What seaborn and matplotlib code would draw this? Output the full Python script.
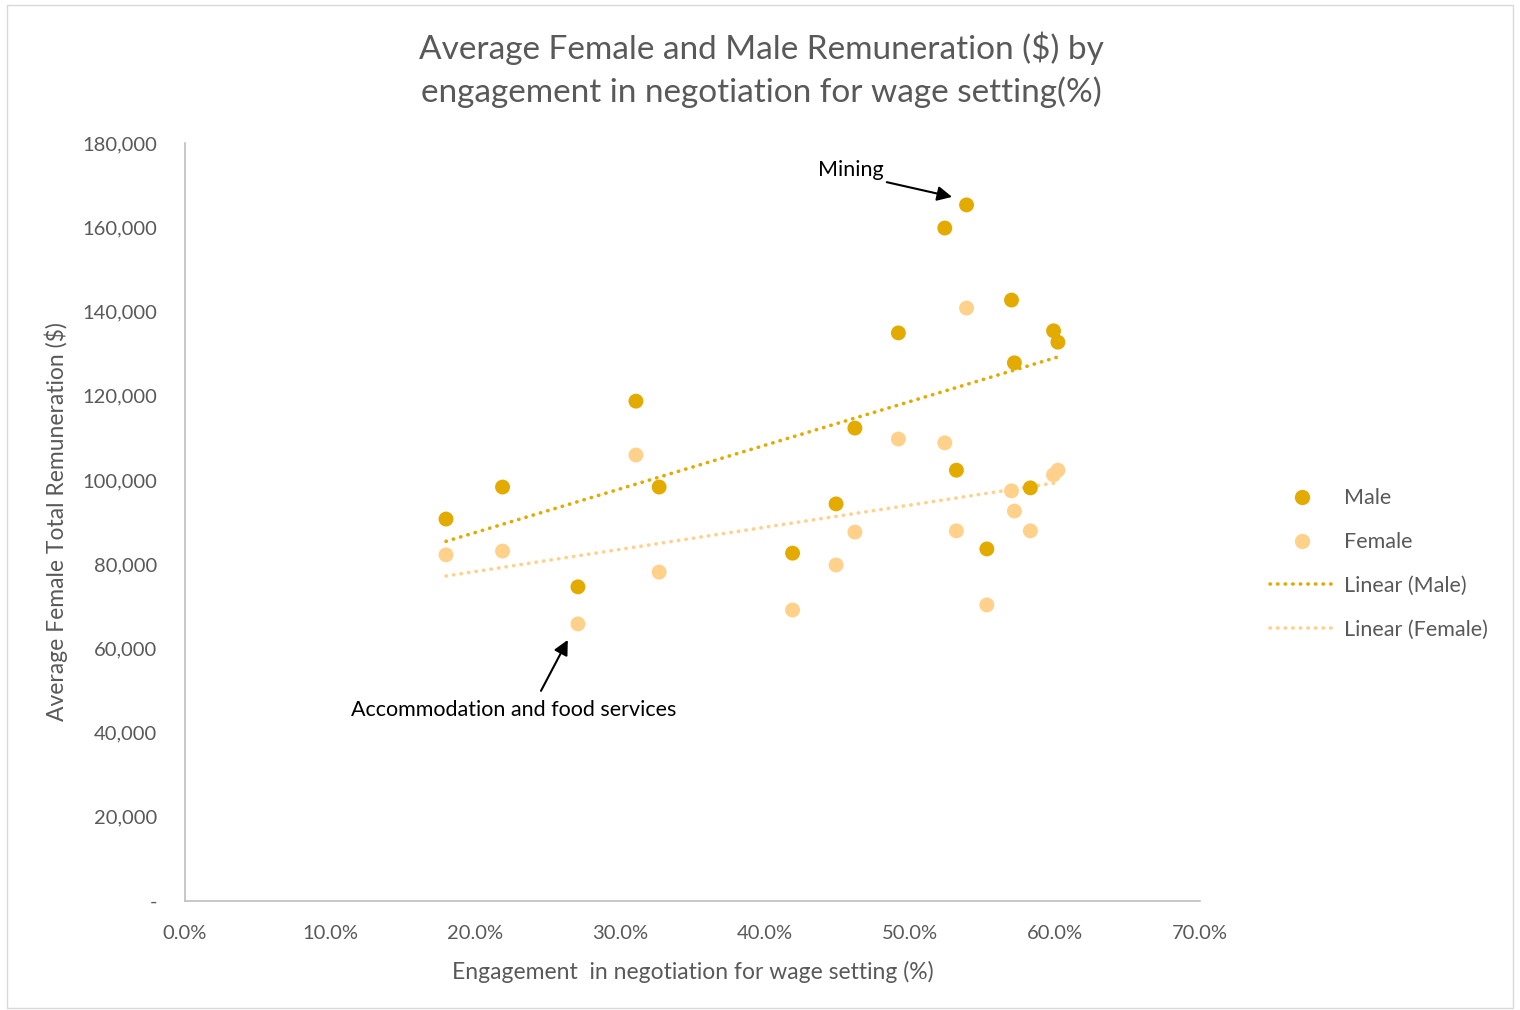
import matplotlib
matplotlib.use("Agg")
import matplotlib.pyplot as plt
import seaborn as sns
import pandas as pd
import numpy as np
from matplotlib.lines import Line2D
from matplotlib.ticker import FuncFormatter

# Data (engagement % as fraction, remuneration $)
engagement = [0.180, 0.219, 0.271, 0.311, 0.327, 0.419, 0.449, 0.462, 0.492,
              0.524, 0.539, 0.532, 0.553, 0.570, 0.572, 0.583, 0.599, 0.602]
male = [90700, 98300, 74600, 118700, 98300, 82600, 94300, 112300, 134900,
        159800, 165300, 102300, 83600, 142700, 127800, 98100, 135400, 132700]
female = [82200, 83100, 65800, 105900, 78100, 69100, 79800, 87600, 109700,
          108800, 140800, 87900, 70300, 97400, 92600, 87900, 101200, 102300]

series_names = ["Male", "Female"]
colors = {"Male": "#E3AA00", "Female": "#FFD18A"}
y_ticks = [0, 20000, 40000, 60000, 80000, 100000, 120000, 140000, 160000, 180000]
x_ticks = [0.0, 0.1, 0.2, 0.3, 0.4, 0.5, 0.6, 0.7]

df = pd.DataFrame({
    "Engagement": engagement * 2,
    "Remuneration": male + female,
    "Series": ["Male"] * len(male) + ["Female"] * len(female),
})

sns.set_theme(style="white")
plt.rcParams['font.family'] = ['Lato', 'DejaVu Sans']

DOT = (0, (0.1, 2.0))

fig = plt.figure(figsize=(15.2, 10.1), dpi=100)
ax = fig.add_axes([185/1520, 1 - 901/1010, (1200-185)/1520, (901-143)/1010])

# trendlines
for name in series_names:
    sub = df[df["Series"] == name]
    sns.regplot(data=sub, x="Engagement", y="Remuneration", ax=ax, scatter=False,
                ci=None, truncate=True, color=colors[name],
                line_kws=dict(linestyle=DOT, linewidth=2.6, dash_capstyle="round"))

sns.scatterplot(data=df, x="Engagement", y="Remuneration", hue="Series",
                palette=colors, hue_order=series_names, s=115, edgecolor="none",
                ax=ax, legend=False, zorder=3)

ax.set_xlim(0, 0.7)
ax.set_ylim(0, 180000)
ax.set_xticks(x_ticks)
ax.set_yticks(y_ticks)
ax.xaxis.set_major_formatter(FuncFormatter(lambda v, p: f"{v*100:.1f}%"))
ax.yaxis.set_major_formatter(FuncFormatter(lambda v, p: "-" if v == 0 else f"{int(v):,}"))
ax.tick_params(axis="both", labelsize=14.5, colors="#595959", length=0)
ax.tick_params(axis="x", pad=17)
ax.tick_params(axis="y", pad=20)

for s in ["top", "right"]:
    ax.spines[s].set_visible(False)
for s in ["left", "bottom"]:
    ax.spines[s].set_color("#BFBFBF")
    ax.spines[s].set_linewidth(1.2)

ax.set_xlabel("Engagement  in negotiation for wage setting (%)", fontsize=16.5,
              color="#595959", labelpad=14)
ax.set_ylabel("Average Female Total Remuneration ($)", fontsize=16.5,
              color="#595959", labelpad=10)

fig.text((420 + 1102) / 2 / 1520, 1 - 70/1010,
         "Average Female and Male Remuneration ($) by\nengagement in negotiation for wage setting(%)",
         ha="center", va="center", fontsize=24, color="#595959", linespacing=1.45)

# annotations
ax.text(0.459, 173600, "Mining", fontsize=15.5, color="black", ha="center", va="center")
ax.annotate("", xy=(0.529, 167200), xytext=(0.484, 170700),
            arrowprops=dict(arrowstyle="-|>", color="black", lw=1.5, mutation_scale=22,
                            shrinkA=0, shrinkB=0))
ax.text(0.227, 45400, "Accommodation and food services", fontsize=15.5, color="black",
        ha="center", va="center")
ax.annotate("", xy=(0.264, 62000), xytext=(0.2455, 49900),
            arrowprops=dict(arrowstyle="-|>", color="black", lw=1.5, mutation_scale=22,
                            shrinkA=0, shrinkB=0))

# legend
handles = [
    Line2D([0], [0], marker="o", linestyle="none", markersize=11,
           markerfacecolor=colors["Male"], markeredgecolor="none"),
    Line2D([0], [0], marker="o", linestyle="none", markersize=11,
           markerfacecolor=colors["Female"], markeredgecolor="none"),
    Line2D([0], [0], color=colors["Male"], linestyle=DOT, linewidth=2.6,
           dash_capstyle="round"),
    Line2D([0], [0], color=colors["Female"], linestyle=DOT, linewidth=2.6,
           dash_capstyle="round"),
]
labels = ["Male", "Female", "Linear (Male)", "Linear (Female)"]
leg = fig.legend(handles, labels, loc="center left", bbox_to_anchor=(1270/1520, 1 - 564/1010),
                 frameon=False, fontsize=15.5, labelspacing=1.1, handlelength=3.0,
                 handletextpad=0.45, borderpad=0, borderaxespad=0)
for t in leg.get_texts():
    t.set_color("#595959")

# outer border
fig.patches.append(plt.Rectangle((7/1520, 1 - 1008/1010), 1506/1520, 1003/1010,
                                 transform=fig.transFigure, fill=False,
                                 edgecolor="#D9D9D9", linewidth=1))

fig.savefig("out.png", dpi=100)
